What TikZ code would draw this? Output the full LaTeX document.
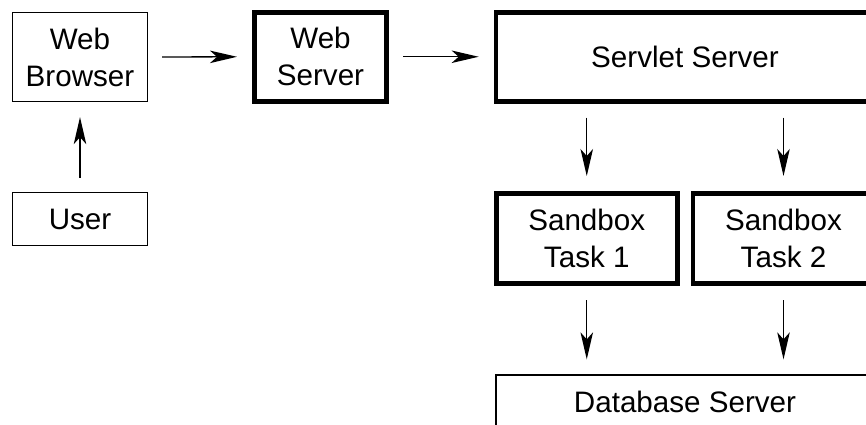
\documentclass[tikz,border=0pt]{standalone}
\usepackage{fontspec}
\setmainfont{Liberation Sans}
\usetikzlibrary{arrows.meta}

\tikzset{
  thinbox/.style={draw, rectangle, line width=1.3pt, inner sep=0pt, align=center},
  thickbox/.style={draw, rectangle, line width=4.7pt, inner sep=0pt, align=center},
  flow/.style={line width=1.3pt, -{Stealth[length=27pt, width=12.5pt, inset=7pt]},
               shorten <=14pt, shorten >=15pt},
}

\begin{document}
\begin{tikzpicture}[x=1pt, y=-1pt, font=\fontsize{29.6}{37}\selectfont]
  % page frame; the right column runs past the edge and is cut off
  \useasboundingbox (0,0) rectangle (866,424);
  \clip (0,0) rectangle (866,424);

  % left column
  \node[thinbox, minimum width=135pt, minimum height=89pt] (browser) at (80,57) {Web\\Browser};
  \node[thinbox, minimum width=135pt, minimum height=53pt] (user) at (80,219) {User};

  % web server
  \node[thickbox, minimum width=132.3pt, minimum height=88.8pt] (web) at (320.5,56.75) {Web\\Server};

  % right column
  \node[thickbox, minimum width=378pt, minimum height=88.8pt] (servlet) at (685,56.75) {Servlet Server};
  \node[thickbox, minimum width=180.8pt, minimum height=90.3pt] (sb1) at (586.75,238.5) {Sandbox\\Task 1};
  \node[thickbox, minimum width=180.8pt, minimum height=90.3pt] (sb2) at (783.5,238.5) {Sandbox\\Task 2};
  \node[thinbox, minimum width=378pt, minimum height=53pt] (db) at (685,401.5) {Database Server};

  % connectors
  \draw[flow] (user.north) -- (browser.south);
  \draw[flow] (browser.east) -- (web.west);
  \draw[flow] (web.east) -- (servlet.west);
  \draw[flow] (sb1.north |- servlet.south) -- (sb1.north);
  \draw[flow] (sb2.north |- servlet.south) -- (sb2.north);
  \draw[flow] (sb1.south) -- (sb1.south |- db.north);
  \draw[flow] (sb2.south) -- (sb2.south |- db.north);
\end{tikzpicture}
\end{document}
